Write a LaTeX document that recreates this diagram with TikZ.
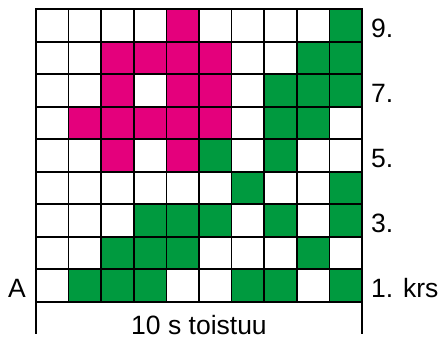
\documentclass[tikz,border=0pt]{standalone}
\usepackage{fontspec}
\setmainfont{Liberation Sans}
\definecolor{pinkc}{HTML}{E4007C}
\definecolor{greenc}{HTML}{009A3F}
\begin{document}
\begin{tikzpicture}[x=1pt,y=-1pt,
  lbl/.style={font=\fontsize{26.5}{30}\selectfont, inner sep=0pt},
  gridline/.style={line width=1.7pt, black, line cap=rect}]
\useasboundingbox (0,0) rectangle (444,341);
\def\cw{32.6}\def\ch{32.49}\def\xo{36}\def\yo{9.3}
% cell colours, top row first: 0 white, 1 pink, 2 green
\foreach \rowlist [count=\r from 0] in {
  {0,0,0,0,1,0,0,0,0,2},
  {0,0,1,1,1,1,0,0,2,2},
  {0,0,1,0,1,1,0,2,2,2},
  {0,1,1,1,1,1,0,2,2,0},
  {0,0,1,0,1,2,0,2,0,0},
  {0,0,0,0,0,0,2,0,0,2},
  {0,0,0,2,2,2,0,2,0,2},
  {0,0,2,2,2,0,0,0,2,0},
  {0,2,2,2,0,0,2,2,0,2}}{
  \foreach \v [count=\k from 0] in \rowlist {
    \ifnum\v=1
      \fill[pinkc] ({\xo+\k*\cw},{\yo+\r*\ch}) rectangle ++(\cw,\ch);
    \fi
    \ifnum\v=2
      \fill[greenc] ({\xo+\k*\cw},{\yo+\r*\ch}) rectangle ++(\cw,\ch);
    \fi
  }
}
\foreach \i in {0,...,10}
  \draw[gridline] ({\xo+\i*\cw},\yo) -- ({\xo+\i*\cw},{\yo+9*\ch});
\foreach \j in {0,...,9}
  \draw[gridline] (\xo,{\yo+\j*\ch}) -- ({\xo+10*\cw},{\yo+\j*\ch});
% repeat bracket
\coordinate (bl) at (\xo,{\yo+9*\ch});
\coordinate (br) at ({\xo+10*\cw},{\yo+9*\ch});
\coordinate (blend) at (\xo,333);
\coordinate (brend) at ({\xo+10*\cw},333);
\draw[gridline] (bl) -- (blend);
\draw[gridline] (br) -- (brend);
% labels
\node[lbl, anchor=base west] (r9) at (371,37.4) {9.};
\node[lbl, anchor=base west] (r7) at (371,102.4) {7.};
\node[lbl, anchor=base west] (r5) at (371,167.3) {5.};
\node[lbl, anchor=base west] (r3) at (371,232.3) {3.};
\node[lbl, anchor=base west] (r1) at (371,297.3) {1. krs};
\node[lbl, anchor=base west] (a) at (8,297.3) {A};
\node[lbl, anchor=base] (rep) at (199,334.5) {10 s toistuu};
\end{tikzpicture}
\end{document}
